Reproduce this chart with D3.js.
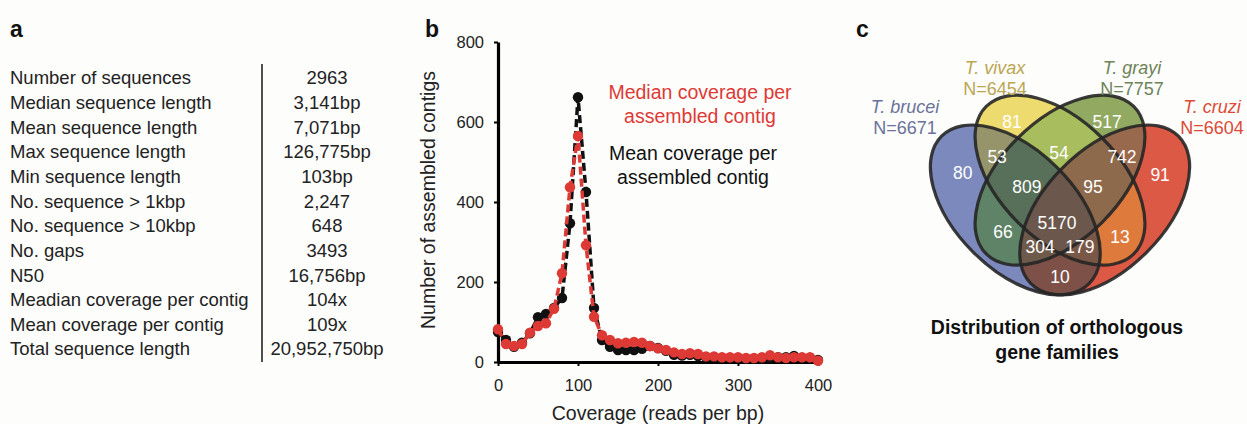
<!DOCTYPE html>
<html>
<head>
<meta charset="utf-8">
<script src="https://cdn.jsdelivr.net/npm/d3@7"></script>
<style>
    body { margin: 0; background: #fdfdfc; }
    svg { display: block; font-family: "Liberation Sans", Arial, sans-serif; }
</style>
</head>
<body>
<div id="main"></div>
<script>
// ---- panel a: assembly stats
const statLabels = ["Number of sequences", "Median sequence length", "Mean sequence length", "Max sequence length",
    "Min sequence length", "No. sequence > 1kbp", "No. sequence > 10kbp", "No. gaps", "N50",
    "Meadian coverage per contig", "Mean coverage per contig", "Total sequence length"];
const statValues = ["2963", "3,141bp", "7,071bp", "126,775bp", "103bp", "2,247", "648", "3493", "16,756bp",
    "104x", "109x", "20,952,750bp"];

// ---- panel b: coverage histogram (bins of 10 reads per bp)
const coverage = d3.range(0, 401, 10);
const meanCounts = [75, 55, 38, 48, 72, 112, 120, 135, 160, 347, 662, 425, 135, 55, 38, 30, 30, 30, 33, 40, 35,
    28, 18, 16, 18, 15, 12, 12, 10, 9, 10, 8, 8, 8, 10, 12, 12, 15, 10, 10, 5];
const medianCounts = [82, 45, 40, 45, 73, 90, 97, 133, 222, 437, 565, 292, 113, 67, 55, 47, 48, 50, 48, 40, 34,
    30, 24, 20, 22, 20, 14, 14, 12, 12, 12, 10, 10, 12, 17, 12, 10, 12, 12, 12, 3];
const xTicks = [0, 100, 200, 300, 400];
const yTicks = [0, 200, 400, 600, 800];

// ---- panel c: venn of orthologous gene families
const vennSets = ["T. brucei", "T. vivax", "T. grayi", "T. cruzi"];
const vennTotals = [6671, 6454, 7757, 6604];
const vennRegions = ["A", "B", "C", "D", "AB", "AC", "AD", "BC", "BD", "CD", "ABC", "ABD", "ACD", "BCD", "ABCD"];
const vennCounts = [80, 81, 517, 91, 53, 66, 10, 54, 13, 742, 809, 179, 304, 95, 5170];

// styles / layout for the venn (unit square coords)
const setColors = ["#6a7299", "#bba651", "#6e8358", "#dc4a36"];
const regionColors = {
    A: "#7c89bd", B: "#eedb6f", C: "#92a962", D: "#dc5a45",
    AB: "#96946b", AC: "#5f8366", AD: "#7d5048", BC: "#a8bd5e", BD: "#de7b3c", CD: "#98694d",
    ABC: "#58705a", ABD: "#7a5848", ACD: "#6e5a4a", BCD: "#8d6a4c", ABCD: "#6b574b"
};
const ellipses = [
    { key: "A", cx: 0.35, cy: 0.47, rot: 45 },
    { key: "B", cx: 0.5, cy: 0.57, rot: 45 },
    { key: "C", cx: 0.5, cy: 0.57, rot: -45 },
    { key: "D", cx: 0.65, cy: 0.47, rot: -45 }
];
const labelPos = {
    A: [0.174, 0.594], B: [0.339, 0.765], C: [0.658, 0.765], D: [0.836, 0.587],
    AB: [0.289, 0.648], AC: [0.309, 0.396], AD: [0.5, 0.245], BC: [0.497, 0.661], BD: [0.701, 0.379],
    CD: [0.708, 0.648], ABC: [0.389, 0.547], ABD: [0.567, 0.346], ACD: [0.433, 0.346], BCD: [0.611, 0.547],
    ABCD: [0.49, 0.426]
};
const setLabelPos = [[905, 107], [995, 68], [1132, 68], [1212, 107]];

const width = 1247;
const height = 424;

const svg = d3.select("#main").append("svg")
    .attr("width", width)
    .attr("height", height);

svg.append("rect").attr("width", width).attr("height", height).attr("fill", "#fdfdfc");

//panel letters
[["a", 10], ["b", 425], ["c", 856]].forEach(([t, px]) => {
    svg.append("text").attr("x", px).attr("y", 37)
        .attr("font-size", 23).attr("font-weight", "bold").attr("fill", "#111").text(t);
});

// ================= panel a =================
const rowY = d3.scaleLinear().domain([0, statLabels.length - 1]).range([78, 349]);
const table = svg.append("g").attr("font-size", 18.5).attr("fill", "#222");

table.selectAll("text.lab")
    .data(statLabels)
    .enter()
    .append("text")
    .attr("class", "lab")
    .attr("x", 10)
    .attr("y", (d, i) => rowY(i))
    .attr("dy", "0.35em")
    .text(d => d);

table.selectAll("text.val")
    .data(statValues)
    .enter()
    .append("text")
    .attr("class", "val")
    .attr("x", 327)
    .attr("y", (d, i) => rowY(i))
    .attr("dy", "0.35em")
    .attr("text-anchor", "middle")
    .text(d => d);

svg.append("line")
    .attr("x1", 262).attr("x2", 262).attr("y1", 64).attr("y2", 362)
    .attr("stroke", "#222").attr("stroke-width", 1.6);

// ================= panel b =================
const x = d3.scaleLinear().domain([0, 400]).range([498, 818]);
const y = d3.scaleLinear().domain([0, 800]).range([362, 42]);

const xAxis = svg.append("g")
    .attr("transform", `translate(0,${y(0)})`)
    .call(d3.axisBottom(x).tickValues(xTicks).tickSize(4).tickSizeOuter(0).tickPadding(13));
const yAxis = svg.append("g")
    .attr("transform", `translate(${x(0)},0)`)
    .call(d3.axisLeft(y).tickValues(yTicks).tickSize(4).tickSizeOuter(0).tickPadding(10));

[xAxis, yAxis].forEach(ax => {
    ax.select(".domain").attr("stroke", "#000").attr("stroke-width", 3.2);
    ax.selectAll(".tick line").attr("stroke", "#000").attr("stroke-width", 2);
    ax.selectAll(".tick text")
        .attr("font-family", "Liberation Sans, Arial, sans-serif")
        .attr("font-size", 16.5).attr("fill", "#222");
});

svg.append("text")
    .attr("transform", "translate(428,200) rotate(-90)")
    .attr("text-anchor", "middle").attr("dy", "0.35em")
    .attr("font-size", 19.5).attr("fill", "#222")
    .text("Number of assembled contigs");

svg.append("text")
    .attr("x", 658).attr("y", 413).attr("dy", "0.35em")
    .attr("text-anchor", "middle")
    .attr("font-size", 19.5).attr("fill", "#222")
    .text("Coverage (reads per bp)");

const line = d3.line().x(d => x(d[0])).y(d => y(d[1]));

//draw mean then median on top
const series = [
    { values: meanCounts, color: "#111" },
    { values: medianCounts, color: "#dd3a36" }
];
series.forEach(s => {
    const pts = coverage.map((c, i) => [c, s.values[i]]);
    svg.append("g").selectAll("circle")
        .data(pts)
        .enter()
        .append("circle")
        .attr("cx", d => x(d[0]))
        .attr("cy", d => y(d[1]))
        .attr("r", 5.2)
        .attr("fill", s.color);
    svg.append("path")
        .datum(pts)
        .attr("d", line)
        .attr("fill", "none")
        .attr("stroke", s.color)
        .attr("stroke-width", 3.5)
        .attr("stroke-dasharray", "8,4");
});

//legend text
const legend = svg.append("g").attr("font-size", 19.5).attr("text-anchor", "middle");
legend.append("text").attr("x", 700).attr("y", 92).attr("dy", "0.35em").attr("fill", "#dd3a36").text("Median coverage per");
legend.append("text").attr("x", 700).attr("y", 116).attr("dy", "0.35em").attr("fill", "#dd3a36").text("assembled contig");
legend.append("text").attr("x", 693).attr("y", 153).attr("dy", "0.35em").attr("fill", "#111").text("Mean coverage per");
legend.append("text").attr("x", 693).attr("y", 177).attr("dy", "0.35em").attr("fill", "#111").text("assembled contig");

// ================= panel c =================
const S = 298;
const vx = d3.scaleLinear().domain([0, 1]).range([911, 911 + S]);
const vy = d3.scaleLinear().domain([0, 1]).range([350, 350 - S]);
const rx = 0.35 * S;
const ry = 0.2 * S;

const defs = svg.append("defs");
ellipses.forEach(e => {
    defs.append("clipPath").attr("id", "clip" + e.key)
        .append("ellipse")
        .attr("rx", rx).attr("ry", ry)
        .attr("transform", `translate(${vx(e.cx)},${vy(e.cy)}) rotate(${e.rot})`);
});
const ellipseOf = {};
ellipses.forEach(e => ellipseOf[e.key] = e);

//paint each intersection, lower orders first so higher orders overwrite
const venn = svg.append("g");
vennRegions.slice().sort((a, b) => a.length - b.length).forEach(key => {
    let g = venn;
    const letters = key.split("");
    letters.slice(0, -1).forEach(k => {
        g = g.append("g").attr("clip-path", `url(#clip${k})`);
    });
    const e = ellipseOf[letters[letters.length - 1]];
    g.append("ellipse")
        .attr("rx", rx).attr("ry", ry)
        .attr("transform", `translate(${vx(e.cx)},${vy(e.cy)}) rotate(${e.rot})`)
        .attr("fill", regionColors[key]);
});

//outlines
venn.selectAll("ellipse.outline")
    .data(ellipses)
    .enter()
    .append("ellipse")
    .attr("class", "outline")
    .attr("rx", rx).attr("ry", ry)
    .attr("transform", e => `translate(${vx(e.cx)},${vy(e.cy)}) rotate(${e.rot})`)
    .attr("fill", "none")
    .attr("stroke", "#262626")
    .attr("stroke-opacity", 0.9)
    .attr("stroke-width", 3.2);

//region counts
venn.selectAll("text.count")
    .data(vennRegions)
    .enter()
    .append("text")
    .attr("class", "count")
    .attr("x", d => vx(labelPos[d][0]))
    .attr("y", d => vy(labelPos[d][1]))
    .attr("dy", "0.35em")
    .attr("text-anchor", "middle")
    .attr("font-size", 17.5)
    .attr("fill", "#fff")
    .text((d, i) => vennCounts[i]);

//set names
vennSets.forEach((name, i) => {
    const [px, py] = setLabelPos[i];
    svg.append("text").attr("x", px).attr("y", py).attr("dy", "0.35em")
        .attr("text-anchor", "middle").attr("font-size", 18).attr("font-style", "italic")
        .attr("fill", setColors[i]).text(name);
    svg.append("text").attr("x", px).attr("y", py + 21).attr("dy", "0.35em")
        .attr("text-anchor", "middle").attr("font-size", 18)
        .attr("fill", setColors[i]).text("N=" + vennTotals[i]);
});

svg.append("text").attr("x", 1057).attr("y", 327).attr("dy", "0.35em")
    .attr("text-anchor", "middle").attr("font-size", 19.5).attr("font-weight", "bold").attr("fill", "#111")
    .text("Distribution of orthologous");
svg.append("text").attr("x", 1057).attr("y", 352).attr("dy", "0.35em")
    .attr("text-anchor", "middle").attr("font-size", 19.5).attr("font-weight", "bold").attr("fill", "#111")
    .text("gene families");
</script>
</body>
</html>
